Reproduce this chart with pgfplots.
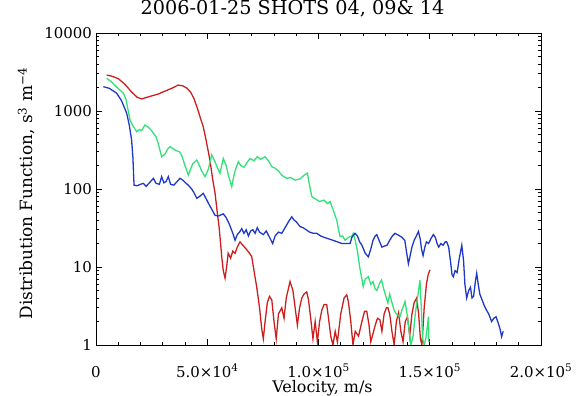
\documentclass[border=0pt]{standalone}
\usepackage{pgfplots}
\pgfplotsset{compat=1.18}
\usepackage{fontspec}
\setmainfont{DejaVu Serif}
\definecolor{cred}{RGB}{205,30,30}
\definecolor{cgreen}{RGB}{50,225,120}
\definecolor{cblue}{RGB}{30,55,200}
\begin{document}
\begin{tikzpicture}
\path[use as bounding box] (0,0) rectangle (578bp,396bp);
\begin{axis}[ymode=log,
  xmin=0, xmax=200000, ymin=1, ymax=10000,
  scale only axis, width=445bp, height=312bp, at={(96bp,51bp)}, anchor=south west,
  xtick={0,50000,100000,150000,200000},
  minor xtick={10000,20000,30000,40000,60000,70000,80000,90000,110000,120000,130000,140000,160000,170000,180000,190000},
  scaled x ticks=false,
  ytick={1,10,100,1000,10000},
  minor ytick={2,3,4,5,6,7,8,9,20,30,40,50,60,70,80,90,200,300,400,500,600,700,800,900,2000,3000,4000,5000,6000,7000,8000,9000},
  major tick length=6.5pt, minor tick length=3.5pt,
  every tick/.style={black, line width=0.8pt},
  tick align=inside,
  axis line style={line width=0.9pt, black},
  xticklabels={0,5.0×10\textsuperscript{4},1.0×10\textsuperscript{5},1.5×10\textsuperscript{5},2.0×10\textsuperscript{5}},
  yticklabels={1,10,100,1000,10000},
  xtick pos=both, ytick pos=both,
  xticklabel style={font=\fontsize{15}{18}\selectfont, anchor=base, yshift=-32bp},
  yticklabel style={font=\fontsize{15}{18}\selectfont, inner xsep=4bp},
  title={2006-01-25 SHOTS 04, 09\& 14},
  title style={font=\fontsize{19.3}{22}\selectfont, at={(axis description cs:0.5,1)}, anchor=base, yshift=13bp, xshift=-26bp},
  xlabel={Velocity, m/s},
  xlabel style={font=\fontsize{16}{18}\selectfont, at={(axis description cs:0.5,0)}, anchor=base, yshift=-47bp, xshift=4bp},
  ylabel={Distribution Function, s\textsuperscript{3} m\textsuperscript{−4}},
  ylabel style={font=\fontsize{17}{19}\selectfont, at={(axis description cs:-0.1416,0.485)}, anchor=base},
  clip=true,
]
\addplot[cred, line width=1.3pt] coordinates {
(4800,2890)(7000,2800)(10000,2600)(13000,2200)(16000,1750)(18500,1500)(20500,1430)(23000,1500)(25000,1560)(28000,1650)(31000,1800)(34000,1950)(36900,2150)(39000,2100)(41000,1950)(42500,1750)(44000,1450)(45500,1100)(47000,800)(48200,630)(49500,420)(51200,235)(52500,130)(53500,89)(54500,50)(55300,33)(56000,20)(56500,13.5)(57200,9)(58000,7.2)(58700,10)(59400,15)(60500,13)(61500,16)(62500,15)(63500,18)(64700,21)(66000,19)(67500,17)(69000,15)(70000,13.5)(71000,9)(72200,5.6)(73500,3)(74500,1.6)(75200,1.2)(76000,2)(77000,3.5)(78000,4.2)(79000,3.8)(80000,2)(81000,1.2)(82000,2.5)(83500,3)(84500,2.2)(85500,4)(87200,6.5)(88500,5)(89500,3)(90500,1.8)(91500,3)(92500,4)(93500,4.5)(94700,4.8)(95500,3.8)(96500,2.2)(97500,1.2)(98500,2)(99500,1.1)(100500,2)(101500,2.8)(102500,3.3)(103700,3.3)(104500,2.2)(105500,1.3)(106500,1)(107500,1.5)(108500,1.1)(110000,2.5)(111500,4)(112700,4.4)(113500,3.5)(114500,2)(115500,1)(116500,1.5)(118000,1.3)(119500,2)(120700,2.7)(121700,2.7)(122700,1.8)(123500,1.1)(124500,1.4)(125500,1.8)(126500,2.2)(127600,2.1)(128500,1.5)(129500,2.5)(130500,3)(131200,3)(132000,2.5)(133000,1.5)(134000,1)(135000,2)(136000,2.6)(137000,1.5)(138000,1.1)(139000,2)(140000,2.3)(141000,1.3)(142000,2.5)(143000,3.5)(144100,4)(145000,2.5)(145800,1.2)(146500,1)(147500,3)(148500,6)(149300,8)(150100,9.2)
};
\addplot[cgreen, line width=1.3pt] coordinates {
(4800,2630)(7000,2350)(9500,2000)(12300,1690)(13500,1400)(14500,1000)(15300,767)(16500,650)(18300,543)(19500,580)(20500,560)(22000,660)(23500,620)(25000,560)(25800,517)(27000,470)(28000,380)(29500,259)(31000,280)(32000,320)(33300,350)(34500,330)(36000,310)(37500,300)(38500,270)(40000,200)(41500,151)(42500,180)(43500,210)(45300,235)(46500,200)(47500,170)(49000,144)(50500,180)(52000,273)(53000,240)(54500,190)(55700,159)(56500,200)(57200,246)(58500,200)(59500,150)(61000,107)(62000,150)(63000,190)(64000,224)(65000,200)(66500,190)(68000,220)(69200,246)(71000,230)(72500,260)(74000,240)(76000,259)(77500,230)(79000,193)(80500,185)(82000,170)(83500,150)(85700,137)(87500,140)(89500,130)(91700,135)(93500,150)(95000,160)(96000,110)(97000,80)(98500,75)(100500,69)(102500,72)(104000,65)(105200,69)(106500,55)(107500,45)(108200,40)(109000,30)(109700,24.5)(110800,25)(112000,22)(113500,24)(115000,25)(115600,27)(116500,22)(117500,16)(118500,10)(119500,7)(120100,5.6)(121000,7)(122400,7.5)(123500,6)(124500,6.5)(125500,5.2)(126200,5)(127500,6.2)(128300,6.8)(129500,5)(130500,4)(131200,3.45)(132000,4.5)(133000,3.5)(134000,2.8)(135000,2.5)(136600,2.3)(137500,2.8)(138900,3.6)(139800,2.5)(140800,1.5)(141500,1)(142500,1.3)(143500,2.5)(144500,4)(145600,6.8)(146200,3)(146800,1.2)(147500,1)(148200,1.2)(149000,1.8)(149400,2.3)(149600,1.1)
};
\addplot[cblue, line width=1.3pt] coordinates {
(3300,2050)(6000,1950)(9300,1690)(11500,1350)(13800,935)(15000,650)(16000,425)(16600,250)(17100,112)(18500,110)(20000,115)(21300,118)(22500,108)(24000,120)(25800,137)(27000,118)(28500,115)(29500,144)(30500,120)(31500,125)(32500,144)(33500,115)(35000,112)(36500,125)(37750,137)(39000,130)(40500,118)(41500,112)(43000,100)(44000,90)(45300,76)(46500,80)(48200,88)(49500,75)(51000,62)(52500,52)(53500,46)(55000,45)(57200,48)(58500,43)(60000,35)(61500,27)(62500,22)(63500,26)(64500,28)(65500,31)(66500,27)(67500,30)(68500,25)(69500,29)(70500,30)(71500,27)(72500,32)(73500,28)(75200,26)(76500,29)(78000,24)(79400,20)(80500,25)(82000,28)(83500,27)(85000,32)(86500,38)(88000,44)(89000,40)(90000,38)(91700,33)(93000,32)(94500,30)(96000,28)(97700,27)(99200,27)(101000,25)(102500,24)(104500,23)(106500,22)(108500,21)(110500,20)(112500,20)(114200,20)(115000,24)(116400,27)(117500,25)(118500,21)(119500,19)(121000,15)(122400,13.5)(123500,17)(124500,22)(125500,25)(126200,26)(127200,22)(128500,18)(129500,18.5)(130800,19)(132000,22)(133200,25)(134400,27)(135500,26)(136500,25)(137500,24)(138800,22)(139500,16)(140400,11)(141200,14)(142000,18)(143000,22)(144000,25)(144900,28.5)(145700,23)(146300,17)(147000,14)(147800,18)(148500,21)(149500,20)(150500,23)(151600,26)(152500,24)(153300,20)(154000,18)(155000,20)(156000,19)(157000,21)(157600,21)(158500,18)(159300,12)(160000,8)(160600,7.5)(161400,9)(162300,8.5)(163300,13)(164400,19)(165200,12)(165800,6)(166600,4)(167500,5)(168300,5.5)(169000,4)(169700,4.2)(170500,6.5)(171100,8.3)(171800,6)(172500,4.5)(173500,3.8)(174500,3.2)(175500,2.8)(176500,2.5)(177800,2)(178800,2.2)(179800,2.3)(180800,1.9)(181600,1.6)(182300,1.28)(183000,1.5)
};
\end{axis}
\end{tikzpicture}
\end{document}
